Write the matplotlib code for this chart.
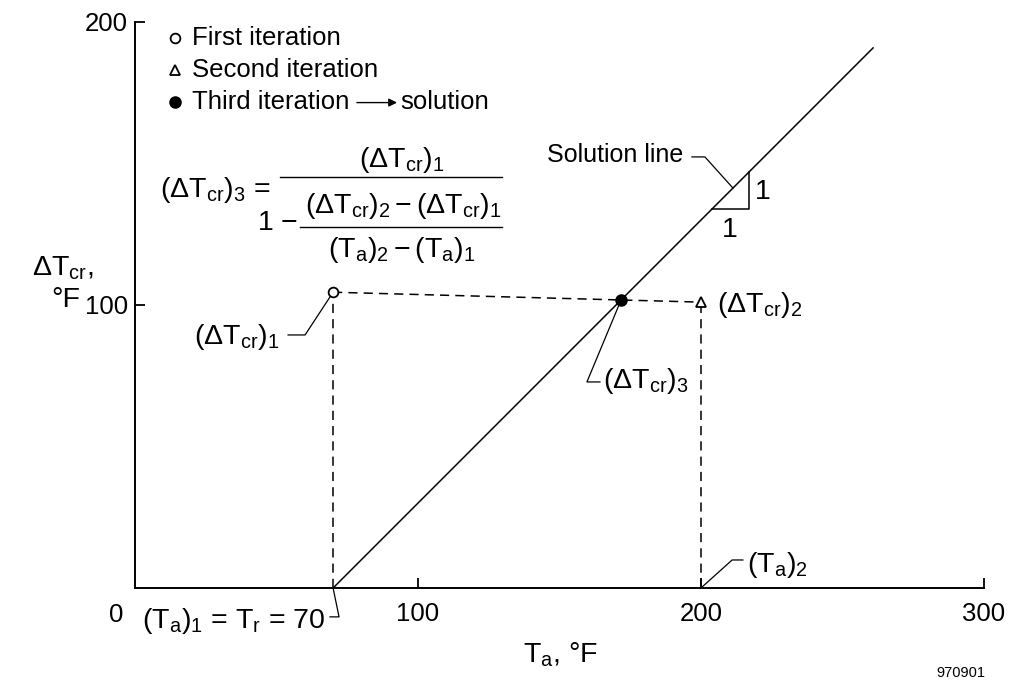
import matplotlib
matplotlib.use("Agg")
import matplotlib.pyplot as plt

plt.rcParams['font.family'] = ['Liberation Sans', 'DejaVu Sans']
plt.rcParams['mathtext.fontset'] = 'custom'
plt.rcParams['mathtext.rm'] = 'Liberation Sans'
plt.rcParams['mathtext.it'] = 'Liberation Sans:italic'
plt.rcParams['mathtext.default'] = 'regular'

# iteration points (T_a, dT_cr) in deg F
t_first, dt_first = 70, 104.5
t_second, dt_second = 200, 101
# secant step gives the third point
dt_third = dt_first / (1 - (dt_second - dt_first) / (t_second - t_first))
t_third = t_first + dt_third

# solution line: dT_cr = T_a - T_r
t_ref = 70
line_x = [70, 261]
line_y = [x - t_ref for x in line_x]

x_ticks = [100, 200, 300]
y_ticks = [100, 200]

fig = plt.figure(figsize=(10.12, 6.87), dpi=100)
ax = fig.add_axes([0.1334, 0.1441, 0.8389, 0.824])
ax.set_xlim(0, 300)
ax.set_ylim(0, 200)
for s in ['top', 'right']:
    ax.spines[s].set_visible(False)
for s in ['left', 'bottom']:
    ax.spines[s].set_linewidth(1.4)
ax.set_xticks(x_ticks)
ax.set_yticks(y_ticks)
ax.tick_params(direction='in', length=7, width=1.3, labelsize=18.5)
ax.tick_params(axis='x', pad=10)
ax.tick_params(axis='y', pad=5)

lw = 1.1
dash = dict(color='black', lw=1.1, ls=(0, (6, 4)))

# dashed construction lines
ax.plot([t_first, t_first], [0, dt_first], **dash)
ax.plot([t_second, t_second], [0, dt_second], **dash)
ax.plot([t_first, t_second], [dt_first, dt_second], **dash)

# solution line
ax.plot(line_x, line_y, color='black', lw=lw, solid_capstyle='butt')

# points
ax.plot(t_first, dt_first, 'o', mfc='white', mec='black', ms=7, mew=1.3, zorder=5)
ax.plot(t_second, dt_second, '^', mfc='white', mec='black', ms=7, mew=1.3, zorder=5)
ax.plot(t_third, dt_third, 'o', color='black', ms=8, zorder=5)

# legend
ax.plot(14.1, 194.3, 'o', mfc='white', mec='black', ms=7, mew=1.3, clip_on=False)
ax.plot(14.1, 183.0, '^', mfc='white', mec='black', ms=7, mew=1.3, clip_on=False)
ax.plot(14.1, 171.7, 'o', color='black', ms=8, clip_on=False)
ax.text(20.1, 194.3, 'First iteration', fontsize=18.5, va='center')
ax.text(20.1, 183.0, 'Second iteration', fontsize=18.5, va='center')
ax.text(20.1, 171.7, 'Third iteration', fontsize=18.5, va='center')
ax.annotate('', xy=(92.6, 171.5), xytext=(78.4, 171.5),
            arrowprops=dict(arrowstyle='-|>', color='black', lw=1.0,
                            mutation_scale=12, shrinkA=0, shrinkB=0))
ax.text(93.6, 171.7, 'solution', fontsize=18.5, va='center')

# secant formula
fs = 20.5
ax.text(8.8, 138.2, r'$(\Delta T_{cr})_3$ =', fontsize=fs, va='baseline')
ax.text(94.3, 148.9, r'$(\Delta T_{cr})_1$', fontsize=fs, ha='center', va='baseline')
ax.plot([51.2, 129.7], [145.3, 145.3], color='black', lw=1.0, clip_on=False)
ax.text(43.1, 126.5, r'1 $-$', fontsize=fs, va='baseline')
ax.text(129.7, 132.5, r'$(\Delta T_{cr})_2 - (\Delta T_{cr})_1$', fontsize=fs,
        ha='right', va='baseline')
ax.plot([58.3, 129.7], [127.7, 127.7], color='black', lw=1.0, clip_on=False)
ax.text(94.3, 117.1, r'$(T_a)_2 - (T_a)_1$', fontsize=fs, ha='center', va='baseline')

# point labels with leaders
thin = dict(color='black', lw=0.9, clip_on=False)
ax.plot([54.1, 60.1, t_first], [89.4, 89.4, dt_first], **thin)
ax.text(51.2, 86.2, r'$(\Delta T_{cr})_1$', fontsize=fs, ha='right', va='baseline')

ax.text(205.7, 97.5, r'$(\Delta T_{cr})_2$', fontsize=fs, va='baseline')

ax.plot([t_third, 159.7, 164.3], [dt_third, 72.8, 72.8], **thin)
ax.text(165.4, 70.7, r'$(\Delta T_{cr})_3$', fontsize=fs, va='baseline')

ax.plot([196.8, 201.4, 211.3], [152.3, 152.3, 141.3], **thin)
ax.text(193.6, 150.5, 'Solution line', fontsize=18, ha='right', va='baseline')

# unit slope triangle
ax.plot([204, 217, 217], [134, 134, 147], color='black', lw=1.1)
ax.text(222, 140, '1', fontsize=fs, ha='center', va='center')
ax.text(210.2, 126.5, '1', fontsize=fs, ha='center', va='center')

ax.plot([t_second, 211, 214.8], [0, 9.9, 9.9], **thin)
ax.text(216.3, 5.7, r'$(T_a)_2$', fontsize=fs, va='baseline')

ax.plot([t_ref, 72.1, 68.9], [0, -10.2, -10.2], **thin)
ax.text(67.1, -14.1, r'$(T_a)_1$ = $T_r$ = 70', fontsize=fs, ha='right', va='baseline')

# axis labels
ax.text(-6.7, -9.5, '0', fontsize=18.5, ha='center', va='center')
ax.text(150.2, -23.7, r'$T_a$, °F', fontsize=fs, ha='center', va='center')
ax.text(-25.5, 113.1, r'$\Delta T_{cr}$,', fontsize=fs, ha='center', va='center')
ax.text(-24.5, 101.8, '°F', fontsize=fs, ha='center', va='center')
ax.text(300.4, -30, '970901', fontsize=10.5, ha='right', va='center')

fig.savefig('out.png', dpi=100)
